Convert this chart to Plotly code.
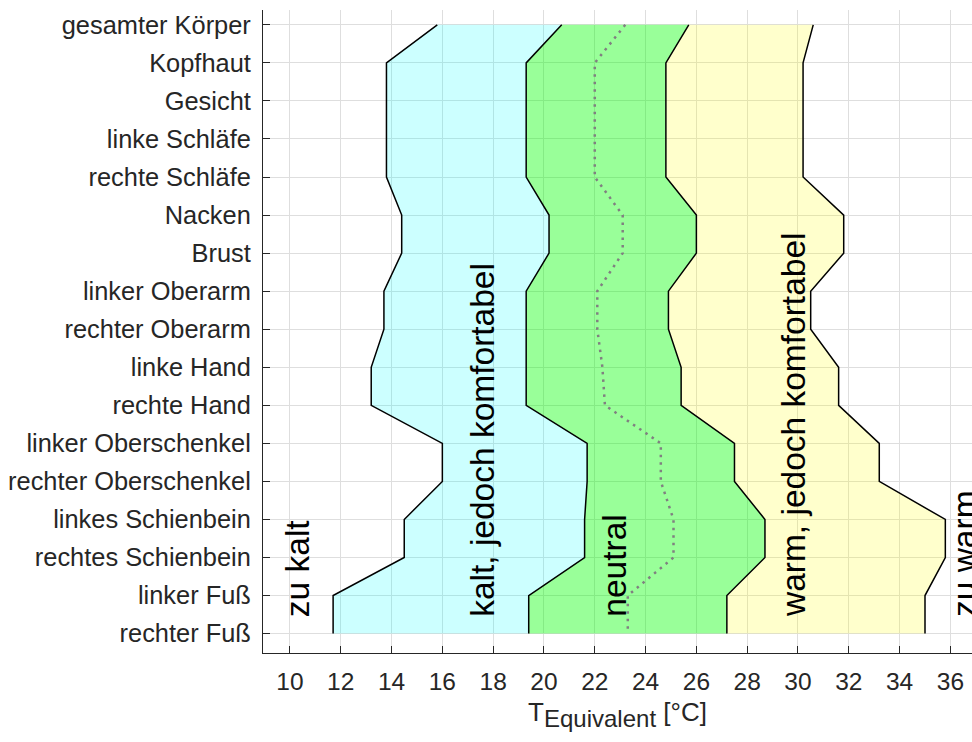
import plotly.graph_objects as go

# Body regions, listed from top to bottom as they appear on the axis
regions = [
    "gesamter Körper", "Kopfhaut", "Gesicht", "linke Schläfe", "rechte Schläfe",
    "Nacken", "Brust", "linker Oberarm", "rechter Oberarm", "linke Hand",
    "rechte Hand", "linker Oberschenkel", "rechter Oberschenkel",
    "linkes Schienbein", "rechtes Schienbein", "linker Fuß", "rechter Fuß",
]

# Equivalent-temperature limits per region [°C] (same order as regions)
limit_cold = [15.8, 13.8, 13.8, 13.8, 13.8, 14.4, 14.4, 13.7, 13.7, 13.2,
              13.2, 16.0, 16.0, 14.5, 14.5, 11.7, 11.7]
limit_cool = [20.7, 19.3, 19.3, 19.3, 19.3, 20.2, 20.2, 19.3, 19.3, 19.3,
              19.3, 21.7, 21.7, 21.6, 21.6, 19.4, 19.4]
neutral = [23.2, 22.0, 22.0, 22.0, 22.0, 23.1, 23.1, 22.1, 22.1, 22.3,
           22.4, 24.6, 24.6, 25.1, 25.1, 23.3, 23.3]
limit_warm = [25.7, 24.8, 24.8, 24.8, 24.8, 26.0, 26.0, 24.9, 24.9, 25.4,
              25.4, 27.5, 27.5, 28.7, 28.7, 27.2, 27.2]
limit_hot = [30.6, 30.2, 30.2, 30.2, 30.2, 31.8, 31.8, 30.5, 30.5, 31.6,
             31.6, 33.2, 33.2, 35.8, 35.8, 35.0, 35.0]

# Zone labels and their horizontal positions [°C]
zone_labels = ["zu kalt", "kalt, jedoch komfortabel", "neutral",
               "warm, jedoch komfortabel", "zu warm"]
zone_label_x = [10.28, 17.55, 22.78, 29.82, 36.55]

x_ticks = list(range(10, 37, 2))

n = len(regions)
ypos = [n - 1 - i for i in range(n)]  # top region gets the highest value

FONT = "Liberation Sans, Arial, sans-serif"
AX_COL = "#262626"
GRID_COL = "#dedede"

fig = go.Figure()

edge = dict(color="black", width=1.5)
fig.add_trace(go.Scatter(x=limit_cold, y=ypos, mode="lines", line=edge,
                         hoverinfo="skip", showlegend=False))
fig.add_trace(go.Scatter(x=limit_cool, y=ypos, mode="lines", line=edge,
                         fill="tonextx", fillcolor="rgba(0,255,255,0.2)",
                         hoverinfo="skip", showlegend=False))
fig.add_trace(go.Scatter(x=limit_warm, y=ypos, mode="lines", line=edge,
                         fill="tonextx", fillcolor="rgba(0,255,0,0.4)",
                         hoverinfo="skip", showlegend=False))
fig.add_trace(go.Scatter(x=limit_hot, y=ypos, mode="lines", line=edge,
                         fill="tonextx", fillcolor="rgba(255,255,0,0.2)",
                         hoverinfo="skip", showlegend=False))
fig.add_trace(go.Scatter(x=neutral, y=ypos, mode="lines",
                         line=dict(color="#808080", width=2.5, dash="2.5px,5px"),
                         hoverinfo="skip", showlegend=False))

for txt, xv in zip(zone_labels, zone_label_x):
    fig.add_annotation(x=xv, y=0.38, xref="x", yref="y", text=txt,
                       textangle=-90, showarrow=False,
                       xanchor="center", yanchor="bottom",
                       font=dict(family=FONT, size=33.5, color="black"))

fig.update_xaxes(
    range=[8.94, 36.85], tickvals=x_ticks, ticktext=[str(v) for v in x_ticks],
    showgrid=True, gridcolor=GRID_COL, gridwidth=1, zeroline=False,
    showline=True, linecolor=AX_COL, linewidth=1.2,
    ticks="inside", ticklen=7, tickcolor=AX_COL, tickwidth=1.2,
    ticklabelstandoff=6,
    tickfont=dict(family=FONT, size=24.5, color=AX_COL),
    title=dict(text="T<sub><span style='font-size:24px'>Equivalent</span></sub> [°C]",
               standoff=9,
               font=dict(family=FONT, size=26, color=AX_COL)),
)
fig.update_yaxes(
    range=[-0.51, 16.39], tickvals=ypos, ticktext=regions,
    showgrid=True, gridcolor=GRID_COL, gridwidth=1, zeroline=False,
    showline=True, linecolor=AX_COL, linewidth=1.2,
    ticks="inside", ticklen=7, tickcolor=AX_COL, tickwidth=1.2,
    ticklabelstandoff=6,
    tickfont=dict(family=FONT, size=25.4, color=AX_COL),
)

fig.update_layout(
    width=972, height=742,
    margin=dict(l=263, r=0, t=10, b=89, pad=0),
    plot_bgcolor="white", paper_bgcolor="white",
    font=dict(family=FONT),
)

fig.write_html("out.html")
